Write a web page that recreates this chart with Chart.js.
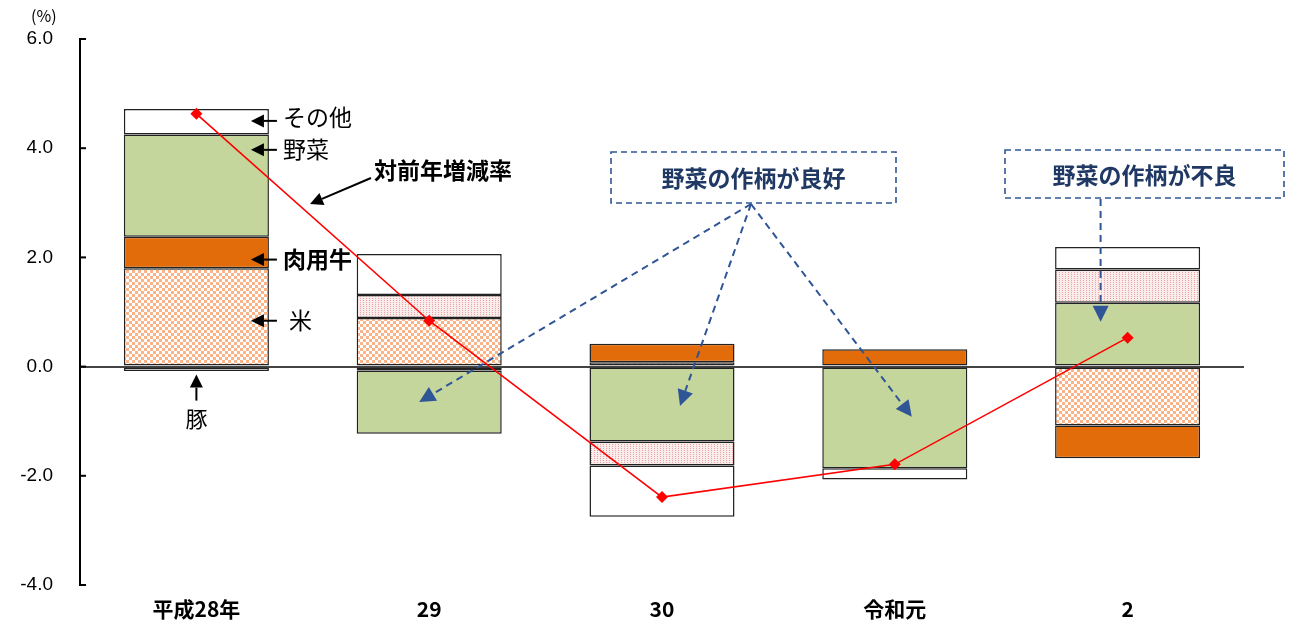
<!DOCTYPE html>
<html>
<head>
<meta charset="utf-8">
<script src="https://cdn.jsdelivr.net/npm/chart.js@4"></script>
<style>
  html, body { margin: 0; padding: 0; background: #fff; }
</style>
</head>
<body>
<canvas id="chart" width="1295" height="628"></canvas>
<script>
const years = ["平成28年", "29", "30", "令和元", "2"];
const rice = [1.80, 0.89, 0.08, 0, -1.08];
const beef = [0.58, -0.07, 0.34, 0.32, -0.60];
const vegetables = [1.87, -1.16, -1.37, -1.86, 1.17];
const pork = [-0.08, 0.42, -0.44, 0, 0.61];
const other = [0.47, 0.75, -0.94, -0.21, 0.41];
const changeRate = [4.63, 0.84, -2.39, -1.79, 0.53];
const yMin = -4, yMax = 6, yStep = 2;

const JP = '"Noto Sans CJK JP", sans-serif';
const NAVY = "#2F5597";
const NAVY_TEXT = "#1F3864";

// checkered fill for rice
function checkerPattern() {
  const c = document.createElement("canvas");
  c.width = 6; c.height = 6;
  const g = c.getContext("2d");
  g.fillStyle = "#fff";
  g.fillRect(0, 0, 6, 6);
  g.fillStyle = "#F9B386";
  g.fillRect(0, 0, 3, 3);
  g.fillRect(3, 3, 3, 3);
  return g.createPattern(c, "repeat");
}

// fine dotted fill for pork
function dotPattern() {
  const c = document.createElement("canvas");
  c.width = 3; c.height = 2;
  const g = c.getContext("2d");
  g.fillStyle = "#FBECEC";
  g.fillRect(0, 0, 3, 2);
  g.fillStyle = "#E9A3A3";
  g.fillRect(0, 0, 1, 1);
  return g.createPattern(c, "repeat");
}

function arrow(ctx, x1, y1, x2, y2, color, dashed, head) {
  const a = Math.atan2(y2 - y1, x2 - x1);
  const hl = head || 11, hw = hl * 0.5;
  const bx = x2 - hl * Math.cos(a), by = y2 - hl * Math.sin(a);
  ctx.save();
  ctx.strokeStyle = color;
  ctx.fillStyle = color;
  ctx.lineWidth = 2;
  if (dashed) ctx.setLineDash([7, 5]);
  ctx.beginPath();
  ctx.moveTo(x1, y1);
  ctx.lineTo(bx, by);
  ctx.stroke();
  ctx.setLineDash([]);
  ctx.beginPath();
  ctx.moveTo(x2, y2);
  ctx.lineTo(bx + hw * Math.sin(a), by - hw * Math.cos(a));
  ctx.lineTo(bx - hw * Math.sin(a), by + hw * Math.cos(a));
  ctx.closePath();
  ctx.fill();
  ctx.restore();
}

function dashedBox(ctx, x, y, w, h, text) {
  ctx.save();
  ctx.strokeStyle = NAVY;
  ctx.lineWidth = 1.6;
  ctx.setLineDash([6, 4]);
  ctx.strokeRect(x, y, w, h);
  ctx.setLineDash([]);
  ctx.fillStyle = NAVY_TEXT;
  ctx.font = "bold 23px " + JP;
  ctx.textAlign = "center";
  ctx.textBaseline = "middle";
  ctx.fillText(text, x + w / 2, y + h / 2 + 1);
  ctx.restore();
}

// small inside ticks on the y axis + "(%)"
const axisMarks = {
  id: "axisMarks",
  afterDraw(chart) {
    const ctx = chart.ctx, y = chart.scales.y, left = chart.chartArea.left;
    ctx.save();
    ctx.strokeStyle = "#000";
    ctx.lineWidth = 2;
    y.ticks.forEach(t => {
      const py = y.getPixelForValue(t.value);
      ctx.beginPath();
      ctx.moveTo(left, py);
      ctx.lineTo(left + 6, py);
      ctx.stroke();
    });
    ctx.fillStyle = "#000";
    ctx.font = "16px " + JP;
    ctx.textAlign = "left";
    ctx.textBaseline = "middle";
    ctx.fillText("(%)", 31, 16);
    ctx.restore();
  }
};

const notes = {
  id: "notes",
  afterDraw(chart) {
    const ctx = chart.ctx, y = chart.scales.y;
    const bar = (ds, i) => chart.getDatasetMeta(ds).data[i];
    const b0 = bar(0, 0);
    const r = b0.x + b0.width / 2;

    // component labels on the first bar
    const labels = [
      ["その他", 4.5, -4],
      ["野菜", 3.97, -1],
      ["肉用牛", 1.96, 0],
      ["米", 0.84, 0]
    ];
    ctx.save();
    ctx.fillStyle = "#000";
    ctx.textBaseline = "middle";
    ctx.textAlign = "left";
    labels.forEach(([t, v, dy]) => {
      const py = y.getPixelForValue(v);
      arrow(ctx, r + 8, py, r - 18, py, "#000", false, 13);
      ctx.font = (t === "肉用牛" ? "bold " : "") + "23px " + JP;
      ctx.fillText(t, t === "米" ? r + 20 : r + 14, py + dy);
    });
    const zero = y.getPixelForValue(0);
    arrow(ctx, b0.x, zero + 34, b0.x, zero + 8, "#000", false, 13);
    ctx.font = "22px " + JP;
    ctx.textAlign = "center";
    ctx.fillText("豚", b0.x, zero + 52);

    // line label
    ctx.font = "bold 23px " + JP;
    ctx.textAlign = "left";
    ctx.fillText("対前年増減率", 374, 170);
    arrow(ctx, 371, 178, 310, 204, "#000", false, 13);
    ctx.restore();

    // callout boxes
    dashedBox(ctx, 611, 152, 285, 51, "野菜の作柄が良好");
    dashedBox(ctx, 1005, 150, 279, 48, "野菜の作柄が不良");
    const ox = 751, oy = 204;
    arrow(ctx, ox, oy, bar(0, 1).x - 10, y.getPixelForValue(-0.65), NAVY, true, 16);
    arrow(ctx, ox, oy, bar(0, 2).x + 18, y.getPixelForValue(-0.72), NAVY, true, 16);
    arrow(ctx, ox, oy, bar(0, 3).x + 17, y.getPixelForValue(-0.92), NAVY, true, 16);
    const b4 = bar(0, 4);
    arrow(ctx, b4.x - 27, 199, b4.x - 27, y.getPixelForValue(0.82), NAVY, true, 16);
  }
};

const barBase = {
  type: "bar",
  stack: "parts",
  borderColor: "#222",
  borderWidth: 1.5,
  borderSkipped: false,
  barPercentage: 0.623,
  categoryPercentage: 1,
  order: 2
};

new Chart(document.getElementById("chart"), {
  data: {
    labels: years,
    datasets: [
      { ...barBase, label: "米", data: rice, backgroundColor: checkerPattern() },
      { ...barBase, label: "肉用牛", data: beef, backgroundColor: "#E36C0A" },
      { ...barBase, label: "野菜", data: vegetables, backgroundColor: "#C4D69B" },
      { ...barBase, label: "豚", data: pork, backgroundColor: dotPattern() },
      { ...barBase, label: "その他", data: other, backgroundColor: "#ffffff" },
      {
        type: "line",
        label: "対前年増減率",
        stack: "rate",
        data: changeRate,
        borderColor: "#FF0000",
        borderWidth: 1.6,
        pointStyle: "rectRot",
        pointRadius: 6,
        pointBackgroundColor: "#FF0000",
        pointBorderWidth: 0,
        order: 1
      }
    ]
  },
  options: {
    responsive: false,
    animation: false,
    layout: { padding: { top: 39, right: 51, bottom: 0, left: 0 } },
    plugins: { legend: { display: false }, tooltip: { enabled: false } },
    scales: {
      x: {
        stacked: true,
        grid: { display: false },
        border: { display: false },
        ticks: { color: "#000", padding: 3, font: { family: JP, size: 21, weight: "bold" } },
        afterFit: s => { s.height = 43; }
      },
      y: {
        stacked: true,
        min: yMin,
        max: yMax,
        ticks: {
          stepSize: yStep,
          color: "#000",
          padding: 27,
          font: { family: "Liberation Sans", size: 19 },
          callback: v => v.toFixed(1)
        },
        grid: {
          drawTicks: false,
          lineWidth: 2,
          color: c => (c.tick && c.tick.value === 0 ? "#444" : "rgba(0,0,0,0)")
        },
        border: { color: "#000", width: 2 },
        afterFit: s => { s.width = 80; }
      }
    }
  },
  plugins: [axisMarks, notes]
});
</script>
</body>
</html>
